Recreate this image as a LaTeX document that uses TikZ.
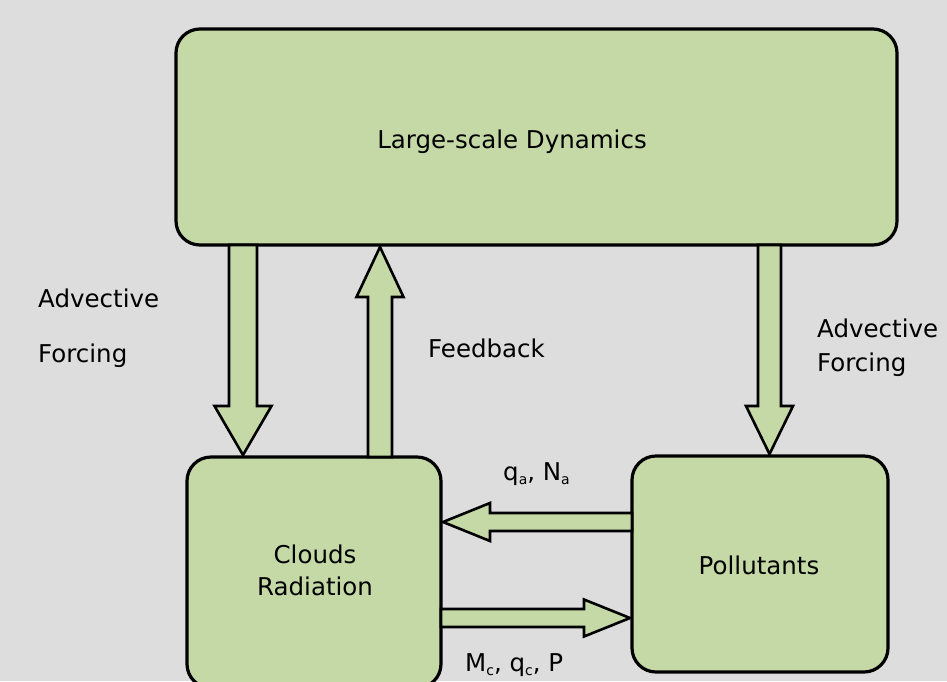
\documentclass[tikz,border=0pt]{standalone}
\usepackage{fontspec}
\setmainfont{DejaVu Sans}
\usetikzlibrary{calc}
\definecolor{bgc}{RGB}{221,221,221}
\definecolor{boxg}{RGB}{197,217,166}
\tikzset{
  box/.style={draw=black, line width=3.2pt, fill=boxg, rounded corners=24pt, outer sep=0pt, inner sep=0pt},
  blk/.style={draw=black, line width=2.6pt, fill=boxg, line join=miter},
  lbl/.style={font=\fontsize{24.5}{32}\selectfont, inner sep=0pt, text=black},
}
\newcommand\sbs[1]{\raisebox{-0.35ex}{\fontsize{14}{14}\selectfont #1}}
% #1 tail, #2 tip, #3 shaft half width, #4 head half width, #5 head length
\newcommand\blockarr[5]{%
  \coordinate (hb) at ($(#2)!#5!(#1)$);
  \draw[blk] ($(#1)!#3!90:(#2)$) -- ($(hb)!#3!90:(#2)$) -- ($(hb)!#4!90:(#2)$) -- (#2)
    -- ($(hb)!#4!-90:(#2)$) -- ($(hb)!#3!-90:(#2)$) -- ($(#1)!#3!-90:(#2)$) -- cycle;}
\begin{document}
\begin{tikzpicture}[x=1pt,y=-1pt]
\useasboundingbox (0,0) rectangle (947,681);
\clip (0,0) rectangle (947,681);
\fill[bgc] (0,0) rectangle (947,681);

\node[box, minimum width=721pt, minimum height=216pt] (top) at (536.5,137) {};
\node[box, minimum width=254pt, minimum height=231pt] (clouds) at (314,572.5) {};
\node[box, minimum width=256pt, minimum height=216pt] (poll) at (760,564) {};

\node[lbl, anchor=base] (topl) at (512,148) {Large-scale Dynamics};
\node[lbl, anchor=base] (cl1) at (315,563) {Clouds};
\node[lbl, anchor=base] (cl2) at (315,595) {Radiation};
\node[lbl, anchor=base] (pl) at (759,574) {Pollutants};

\node[lbl, anchor=base west] (advl) at (38,307) {Advective};
\node[lbl, anchor=base west] (forl) at (38,362) {Forcing};
\node[lbl, anchor=base west] (advr) at (817,337) {Advective};
\node[lbl, anchor=base west] (forr) at (817,371) {Forcing};
\node[lbl, anchor=base west] (fb) at (428,357) {Feedback};
\node[lbl, anchor=base west] (qn) at (503,480) {q\sbs{a}, N\sbs{a}};
\node[lbl, anchor=base west] (mqp) at (465,671) {M\sbs{c}, q\sbs{c}, P};

\coordinate (a1t) at ($(top.south west)+(67,0)$);
\coordinate (a1h) at ($(clouds.north west)+(56,-2)$);
\coordinate (a2t) at ($(clouds.north west)+(193,0)$);
\coordinate (a2h) at ($(top.south west)+(204,2)$);
\coordinate (a3t) at ($(top.south west)+(593.5,0)$);
\coordinate (a3h) at ($(poll.north west)+(137.5,-2)$);
\coordinate (a4t) at ($(poll.west)+(0,-42)$);
\coordinate (a4h) at ($(clouds.east)+(2,-50.5)$);
\coordinate (a5t) at ($(clouds.east)+(0,45.5)$);
\coordinate (a5h) at ($(poll.west)+(-2,54)$);

\blockarr{a1t}{a1h}{14pt}{28.5pt}{49pt}
\blockarr{a2t}{a2h}{12pt}{23.5pt}{50pt}
\blockarr{a3t}{a3h}{11.5pt}{23.5pt}{48pt}
\blockarr{a4t}{a4h}{9pt}{19pt}{47pt}
\blockarr{a5t}{a5h}{9pt}{18.5pt}{46pt}
\end{tikzpicture}
\end{document}
